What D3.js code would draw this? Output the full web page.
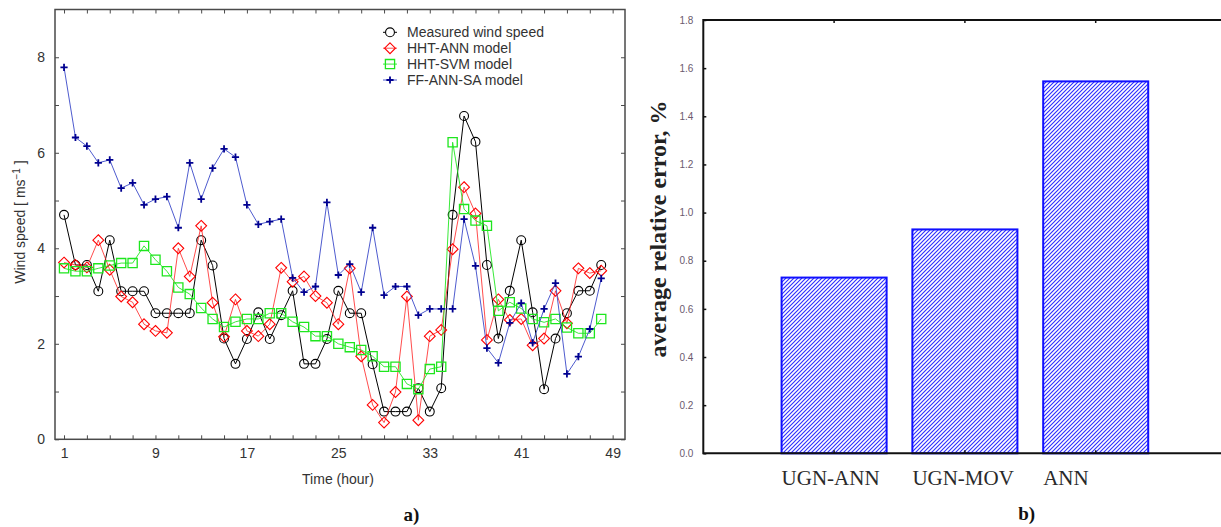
<!DOCTYPE html>
<html>
<head>
<meta charset="utf-8">
<script src="https://cdn.jsdelivr.net/npm/d3@7"></script>
<style>
  html, body { margin: 0; padding: 0; background: #fff; }
  svg { display: block; }
</style>
</head>
<body>
<svg id="fig" width="1221" height="527"></svg>
<script>
// ---- panel a) hourly wind speed ----
const hours = [1,2,3,4,5,6,7,8,9,10,11,12,13,14,15,16,17,18,19,20,21,22,23,24,
               25,26,27,28,29,30,31,32,33,34,35,36,37,38,39,40,41,42,43,44,45,46,47,48];
const measured = [4.70,3.65,3.65,3.10,4.17,3.10,3.10,3.10,2.64,2.64,
                  2.64,2.64,4.17,3.64,2.11,1.58,2.10,2.66,2.10,2.60,
                  3.11,1.58,1.58,2.10,3.11,2.64,2.64,1.57,0.58,0.58,
                  0.58,1.07,0.58,1.07,4.70,6.77,6.23,3.65,2.11,3.11,
                  4.17,2.66,1.05,2.11,2.64,3.11,3.11,3.65];
const hhtAnn = [3.70,3.65,3.60,4.17,3.55,2.99,2.87,2.41,2.27,2.23,
                4.00,3.41,4.47,2.86,2.15,2.93,2.27,2.16,2.41,3.59,
                3.30,3.41,3.00,2.86,2.41,3.58,1.74,0.72,0.35,0.99,
                2.99,0.40,2.16,2.29,3.98,5.28,4.73,2.08,2.93,2.50,
                2.52,1.97,2.11,3.11,2.43,3.58,3.48,3.53];
const hhtSvm = [3.58,3.52,3.52,3.58,3.64,3.69,3.69,4.05,3.76,3.52,
                3.18,3.04,2.75,2.52,2.35,2.46,2.52,2.52,2.64,2.64,
                2.46,2.35,2.16,2.16,2.00,1.93,1.87,1.74,1.52,1.52,
                1.16,1.05,1.47,1.52,6.22,4.82,4.58,4.47,2.69,2.87,
                2.74,2.52,2.45,2.52,2.34,2.22,2.22,2.52];
const ffAnnSa = [7.79,6.32,6.14,5.79,5.85,5.26,5.37,4.91,5.03,5.08,
                 4.43,5.79,5.03,5.68,6.08,5.91,4.91,4.50,4.56,4.61,
                 3.38,3.08,3.20,4.96,3.44,3.67,3.08,4.43,3.02,3.20,
                 3.20,2.60,2.73,2.73,2.73,4.61,3.63,1.91,1.60,2.44,
                 2.85,2.02,2.73,3.27,1.37,1.73,2.31,3.37];
const seriesNames = ["Measured wind speed", "HHT-ANN model", "HHT-SVM model", "FF-ANN-SA model"];
const xTickLabels = [1, 9, 17, 25, 33, 41, 49];
const yTickLabels = [0, 2, 4, 6, 8];

// ---- panel b) average relative error ----
const models = ["UGN-ANN", "UGN-MOV", "ANN"];
const errors = [0.73, 0.93, 1.545];
const errorTicks = [0, 0.2, 0.4, 0.6, 0.8, 1.0, 1.2, 1.4, 1.6, 1.8];

const svg = d3.select("#fig");
const sans = "'Liberation Sans', Arial, sans-serif";
const serif = "'Liberation Serif', 'Times New Roman', serif";

// ================= panel a =================
const A = { left: 55, right: 625, top: 9.5, bottom: 439.3 };
const x = d3.scaleLinear().domain([0.21, 50.08]).range([A.left, A.right]);
const y = d3.scaleLinear().domain([0, 9]).range([A.bottom, A.top]);
const axisColor = "#4a4a4a";

const gA = svg.append("g");

const minorX = d3.range(1, 50, 2);
const minorY = d3.range(0, 9, 1);

function styleAxis(g) {
  g.select(".domain").remove();
  g.selectAll(".tick line").attr("stroke", axisColor).attr("stroke-width", 1);
  g.selectAll(".tick text").attr("fill", "#333").attr("font-family", sans).attr("font-size", 14);
}

gA.append("g").attr("transform", `translate(0,${A.bottom})`)
  .call(d3.axisBottom(x).tickValues(minorX).tickSizeInner(-4).tickSizeOuter(0).tickPadding(9)
        .tickFormat(d => xTickLabels.includes(d) ? d : ""))
  .call(styleAxis);
gA.append("g").attr("transform", `translate(0,${A.top})`)
  .call(d3.axisTop(x).tickValues(minorX).tickSizeInner(-4).tickSizeOuter(0).tickFormat(""))
  .call(styleAxis);
gA.append("g").attr("transform", `translate(${A.left},0)`)
  .call(d3.axisLeft(y).tickValues(minorY).tickSizeInner(-4).tickSizeOuter(0).tickPadding(10)
        .tickFormat(d => yTickLabels.includes(d) ? d : ""))
  .call(styleAxis);
gA.append("g").attr("transform", `translate(${A.right},0)`)
  .call(d3.axisRight(y).tickValues(minorY).tickSizeInner(-4).tickSizeOuter(0).tickFormat(""))
  .call(styleAxis);

// plot frame
gA.append("rect")
  .attr("x", A.left).attr("y", A.top)
  .attr("width", A.right - A.left).attr("height", A.bottom - A.top)
  .attr("fill", "none").attr("stroke", axisColor).attr("stroke-width", 1.5);

const styles = [
  { values: measured, line: "#000", width: 1.0, marker: "circle", mstroke: "#000", mwidth: 1.1 },
  { values: hhtAnn,  line: "#ff2020", width: 0.8, marker: "diamond", mstroke: "#ff0000", mwidth: 1.1 },
  { values: hhtSvm,  line: "#22e622", width: 0.9, marker: "square", mstroke: "#1ee61e", mwidth: 1.3 },
  { values: ffAnnSa, line: "#3a48c8", width: 0.9, marker: "plus", mstroke: "#000090", mwidth: 1.8 }
];

function markerPath(kind) {
  switch (kind) {
    case "circle":  return d3.symbol(d3.symbolCircle, 62)();
    case "diamond": return "M0,-5.4L5.4,0L0,5.4L-5.4,0Z";
    case "square":  return "M-4.6,-4.6H4.6V4.6H-4.6Z";
    case "plus":    return "M-3.6,0H3.6M0,-3.6V3.6";
  }
}

const line = d3.line().x((d, i) => x(hours[i])).y(d => y(d));

styles.forEach(s => {
  const g = gA.append("g");
  g.append("path").datum(s.values)
    .attr("d", line).attr("fill", "none")
    .attr("stroke", s.line).attr("stroke-width", s.width);
  g.selectAll("path.m").data(s.values).join("path")
    .attr("class", "m")
    .attr("d", markerPath(s.marker))
    .attr("transform", (d, i) => `translate(${x(hours[i])},${y(d)})`)
    .attr("fill", "none").attr("stroke", s.mstroke).attr("stroke-width", s.mwidth);
});

// legend
const leg = gA.append("g").attr("transform", "translate(383,32.3)");
styles.forEach((s, i) => {
  const row = leg.append("g").attr("transform", `translate(0,${i * 15.9})`);
  row.append("line").attr("x1", 0).attr("x2", 14).attr("y1", 0).attr("y2", 0)
    .attr("stroke", s.line).attr("stroke-width", s.width);
  row.append("path").attr("d", markerPath(s.marker))
    .attr("transform", "translate(7,0)")
    .attr("fill", s.marker === "circle" ? "#fff" : "none")
    .attr("stroke", s.mstroke).attr("stroke-width", s.mwidth);
  row.append("text").attr("x", 24).attr("y", 5)
    .attr("font-family", sans).attr("font-size", 14).attr("fill", "#333")
    .text(seriesNames[i]);
});

// axis titles
gA.append("text")
  .attr("x", (A.left + A.right) / 2 - 2).attr("y", 484)
  .attr("text-anchor", "middle").attr("font-family", sans).attr("font-size", 14).attr("fill", "#333")
  .text("Time (hour)");
const yt = gA.append("text")
  .attr("transform", "translate(25,222) rotate(-90)")
  .attr("text-anchor", "middle").attr("font-family", sans).attr("font-size", 14).attr("fill", "#333");
yt.append("tspan").text("Wind speed [ ms");
yt.append("tspan").attr("dy", -5).attr("font-size", 10).text("\u22121");
yt.append("tspan").attr("dy", 5).text(" ]");

svg.append("text").attr("x", 411.5).attr("y", 521)
  .attr("text-anchor", "middle").attr("font-family", serif).attr("font-weight", "bold")
  .attr("font-size", 19).attr("fill", "#111").text("a)");

// ================= panel b =================
const B = { left: 703.3, right: 1226.5, top: 20, bottom: 453.3 };
const yb = d3.scaleLinear().domain([0, 1.8]).range([B.bottom, B.top]);
const xb = d3.scaleBand().domain(models).range([768.7, 1161.1])
  .paddingInner(0.197).paddingOuter(0.0985);

const gB = svg.append("g");

const defs = svg.append("defs");
const pat = defs.append("pattern").attr("id", "hatch")
  .attr("patternUnits", "userSpaceOnUse").attr("width", 4).attr("height", 4);
pat.append("rect").attr("width", 4).attr("height", 4).attr("fill", "#fff");
pat.append("path").attr("d", "M-1,1L1,-1M0,4L4,0M3,5L5,3")
  .attr("stroke", "#2f2fff").attr("stroke-width", 1.15);

gB.selectAll("rect.bar").data(errors).join("rect")
  .attr("class", "bar")
  .attr("x", (d, i) => xb(models[i]))
  .attr("y", d => yb(d))
  .attr("width", xb.bandwidth())
  .attr("height", d => yb(0) - yb(d))
  .attr("fill", "url(#hatch)")
  .attr("stroke", "#1010ff").attr("stroke-width", 2);

// frame lines (right side runs past the page edge)
gB.append("path")
  .attr("d", `M${B.right},${B.top}H${B.left}V${B.bottom}H${B.right}`)
  .attr("fill", "none").attr("stroke", "#111").attr("stroke-width", 2);

gB.append("g").attr("transform", `translate(${B.left},0)`)
  .call(d3.axisLeft(yb).tickValues(errorTicks).tickSizeInner(-3).tickSizeOuter(0).tickPadding(10)
        .tickFormat(d3.format(".1f")))
  .call(g => {
    g.select(".domain").remove();
    g.selectAll(".tick line").attr("stroke", "#111").attr("stroke-width", 1.5);
    g.selectAll(".tick text").attr("fill", "#6b5a6e").attr("font-family", sans).attr("font-size", 10);
  });
gB.append("g").attr("transform", `translate(0,${B.bottom})`)
  .call(d3.axisBottom(xb).tickSizeInner(-3).tickSizeOuter(0).tickFormat(""))
  .call(g => { g.select(".domain").remove(); g.selectAll(".tick line").attr("stroke", "#111").attr("stroke-width", 1.5); });
gB.append("g").attr("transform", `translate(0,${B.top})`)
  .call(d3.axisTop(xb).tickSizeInner(-3).tickSizeOuter(0).tickFormat(""))
  .call(g => { g.select(".domain").remove(); g.selectAll(".tick line").attr("stroke", "#111").attr("stroke-width", 1.5); });

// category labels
gB.selectAll("text.cat").data(models).join("text")
  .attr("class", "cat")
  .attr("x", d => xb(d))
  .attr("y", 485)
  .attr("font-family", serif).attr("font-size", 21).attr("fill", "#2a2a2a")
  .text(d => d);

gB.append("text")
  .attr("transform", "translate(666,229) rotate(-90)")
  .attr("text-anchor", "middle").attr("font-family", serif).attr("font-weight", "bold")
  .attr("font-size", 24).attr("fill", "#222")
  .text("average relative error, %");

svg.append("text").attr("x", 1026.7).attr("y", 520)
  .attr("text-anchor", "middle").attr("font-family", serif).attr("font-weight", "bold")
  .attr("font-size", 19).attr("fill", "#111").text("b)");
</script>
</body>
</html>
